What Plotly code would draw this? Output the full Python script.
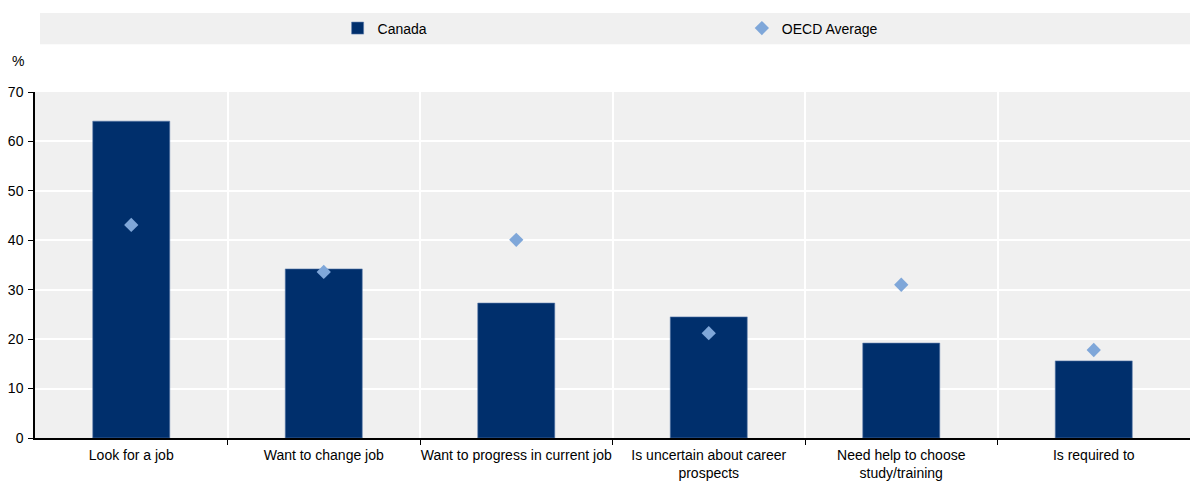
import plotly.graph_objects as go

categories = ["Look for a job", "Want to change job", "Want to progress in current job",
              "Is uncertain about career<br>prospects", "Need help to choose<br>study/training", "Is required to"]
canada = [64.1, 34.2, 27.3, 24.5, 19.2, 15.6]
oecd = [43.1, 33.6, 40.1, 21.2, 31.0, 17.8]
y_ticks = [0, 10, 20, 30, 40, 50, 60, 70]

FONT = "Liberation Sans Narrow, Arial Narrow, Liberation Sans, sans-serif"
pos = list(range(len(categories)))

fig = go.Figure()
fig.add_trace(go.Bar(x=pos, y=canada, name="Canada", width=0.4,
                     marker=dict(color="#002f6c", line=dict(color="#5a7bab", width=0.6)),
                     legend="legend"))
fig.add_trace(go.Scatter(x=pos, y=oecd, name="OECD Average", mode="markers",
                         marker=dict(symbol="diamond", size=11, color="#7fa7d9"),
                         legend="legend2"))

fig.add_shape(type="rect", xref="paper", yref="paper", x0=0.0043, x1=1.0, y0=1.138, y1=1.228,
              fillcolor="#f0f0f0", line=dict(width=0), layer="below")

fig.update_layout(
    width=1190, height=489,
    margin=dict(l=35, r=0, t=92, b=51, autoexpand=False),
    paper_bgcolor="white", plot_bgcolor="#f0f0f0",
    font=dict(family=FONT, size=14, color="black"),
    showlegend=True,
    legend=dict(x=0.262, y=1.1835, xanchor="left", yanchor="middle", orientation="h",
                bgcolor="rgba(0,0,0,0)", font=dict(family=FONT, size=14)),
    legend2=dict(x=0.612, y=1.1835, xanchor="left", yanchor="middle", orientation="h",
                 bgcolor="rgba(0,0,0,0)", font=dict(family=FONT, size=14)),
    xaxis=dict(range=[-0.5, 5.5], tickvals=pos, ticktext=categories, showgrid=False,
               showline=True, linecolor="black", linewidth=1.5, ticks="", zeroline=False,
               automargin=False, ticklabelstandoff=3,
               minor=dict(tickvals=[0.5, 1.5, 2.5, 3.5, 4.5], showgrid=True, gridcolor="white",
                          gridwidth=1.5, ticks="outside", ticklen=5, tickcolor="black")),
    yaxis=dict(range=[0, 70], tickvals=y_ticks, showgrid=True, gridcolor="white", gridwidth=1.5,
               showline=True, linecolor="black", linewidth=1.5, ticks="outside", ticklen=5,
               tickcolor="black", zeroline=False, ticklabelstandoff=2, automargin=False),
    annotations=[dict(text="%", xref="paper", yref="paper", x=-0.0147, y=1.06, xanchor="center",
                      yanchor="bottom", showarrow=False, font=dict(family=FONT, size=14))],
)

fig.write_html("out.html", config={"displayModeBar": False},
               post_script="document.body.style.margin='0';")
